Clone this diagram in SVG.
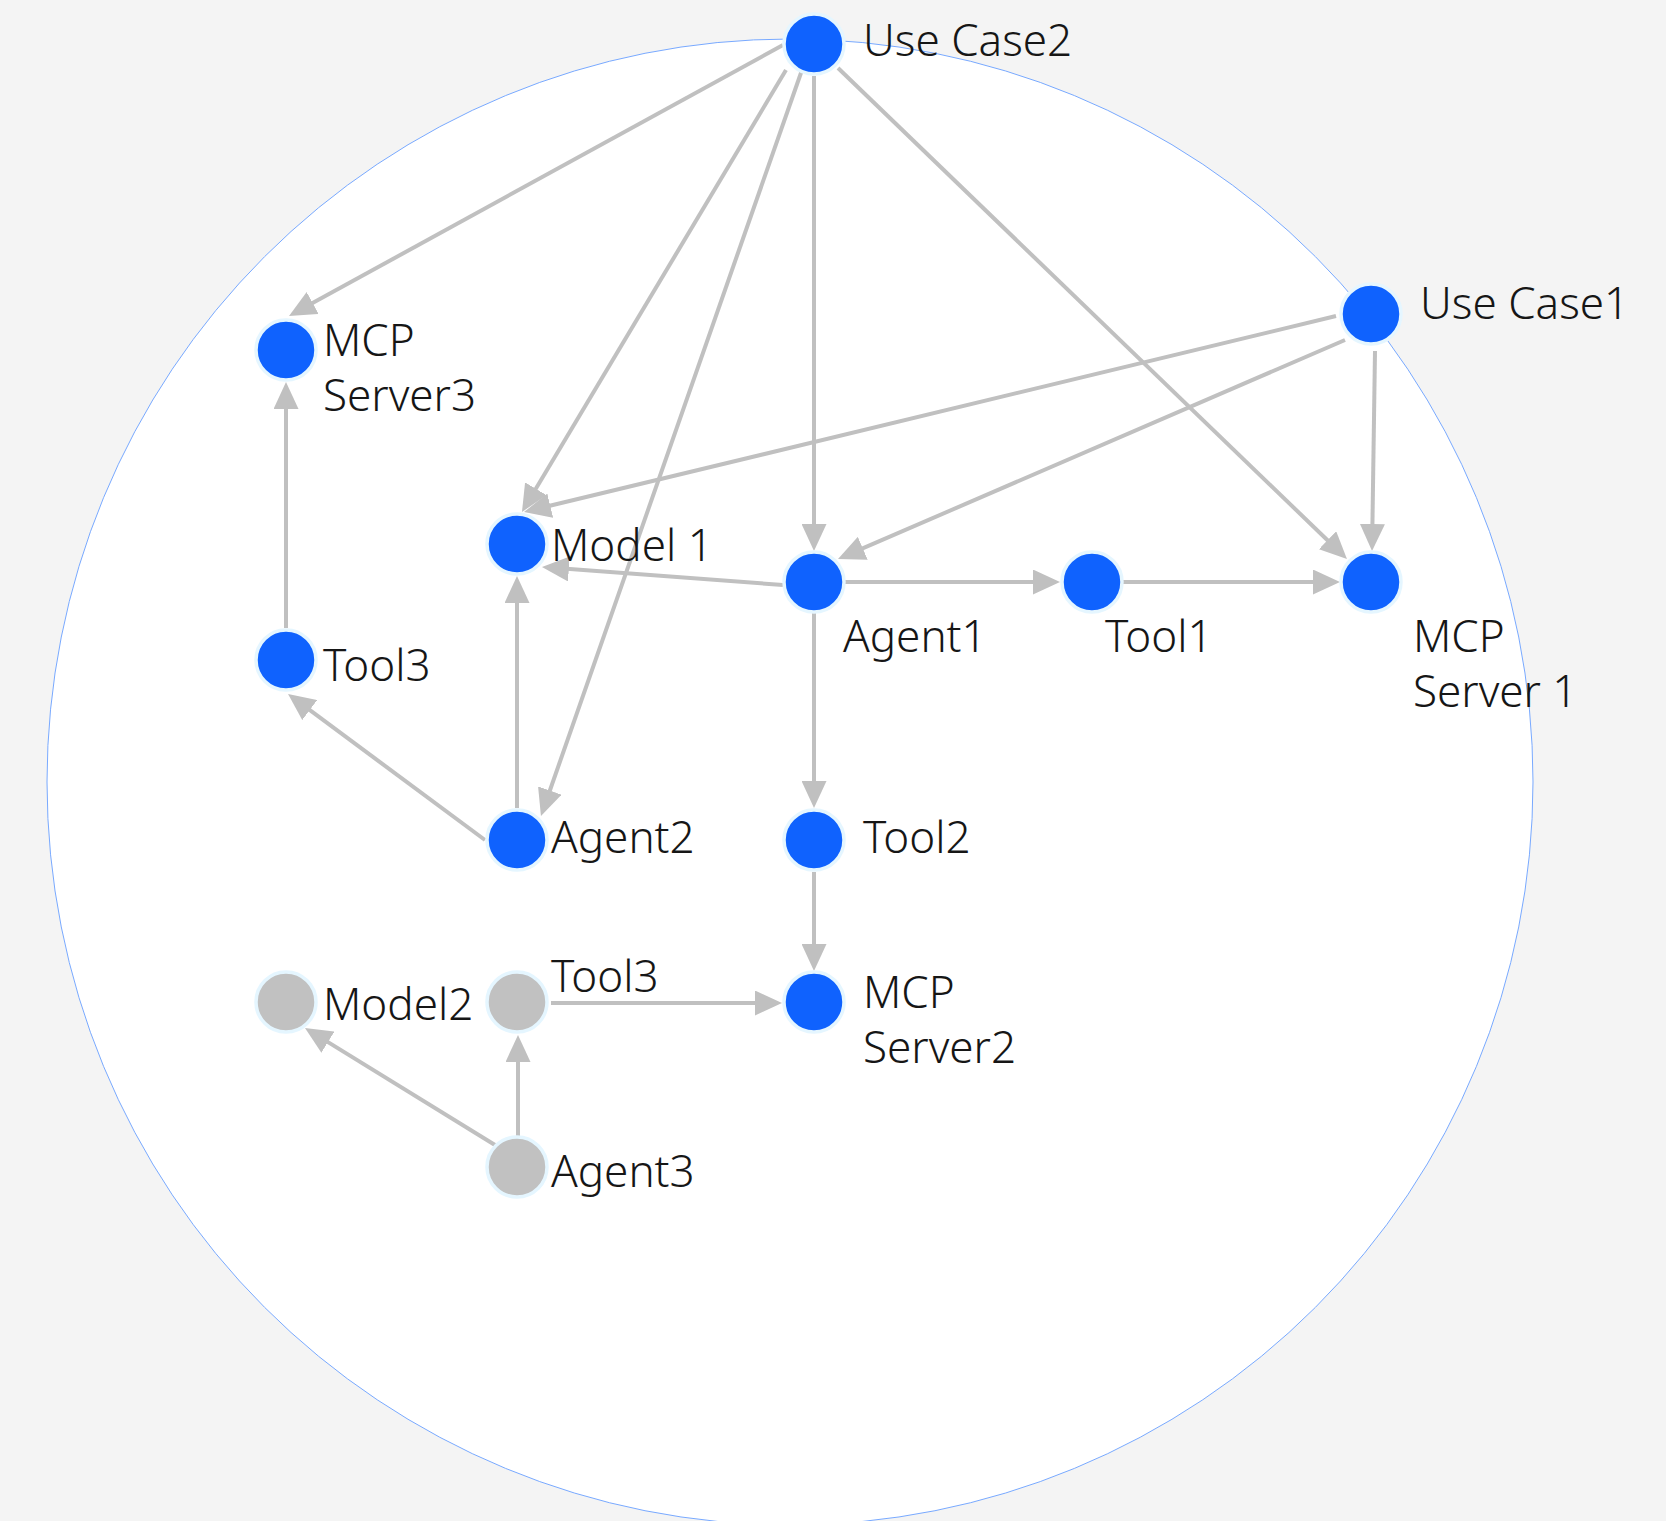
<svg xmlns="http://www.w3.org/2000/svg" width="1666" height="1521" viewBox="0 0 1666 1521">
<style>
.bg{fill:#f4f4f4}
.ring{fill:#ffffff;stroke:#78a9ff;stroke-width:1}
.n{fill:#0f62fe;stroke:#e5f6ff;stroke-width:3.5}
.g{fill:#c1c1c1;stroke:#e5f6ff;stroke-width:3.5}
.e{stroke:#c0c0c0;stroke-width:4;fill:none;marker-end:url(#arr)}
text{font-family:"Noto Sans","Open Sans","Liberation Sans",sans-serif;font-size:44px;font-weight:300;fill:#161616}
</style>
<defs>
<marker id="arr" markerUnits="userSpaceOnUse" markerWidth="27" markerHeight="25" refX="9" refY="12.5" orient="auto" viewBox="0 0 27 25">
<path d="M0,0 L27,12.5 L0,25 z" fill="#c0c0c0"/>
</marker>
</defs>
<rect class="bg" x="0" y="0" width="1666" height="1521"/>
<circle class="ring" cx="790" cy="782" r="743"/>
<g id="connectors">
<line class="e" x1="783" y1="45" x2="304.8" y2="307.3"/>
<line class="e" x1="786" y1="70" x2="531.2" y2="496.5"/>
<line class="e" x1="802" y1="70" x2="546.9" y2="799"/>
<line class="e" x1="814" y1="76" x2="814" y2="533"/>
<line class="e" x1="838" y1="68" x2="1334" y2="546.5"/>
<line class="e" x1="1336" y1="316" x2="541.5" y2="507.8"/>
<line class="e" x1="1345" y1="340" x2="854.5" y2="551.9"/>
<line class="e" x1="1375" y1="351" x2="1372.3" y2="533"/>
<line class="e" x1="783" y1="585" x2="559.9" y2="568.3"/>
<line class="e" x1="845" y1="582" x2="1042" y2="582"/>
<line class="e" x1="1123" y1="582" x2="1322" y2="582"/>
<line class="e" x1="814" y1="613" x2="814" y2="790"/>
<line class="e" x1="814" y1="872" x2="814" y2="953"/>
<line class="e" x1="286" y1="628" x2="286" y2="400"/>
<line class="e" x1="517" y1="808" x2="517" y2="594"/>
<line class="e" x1="485" y1="840" x2="302.5" y2="704.7"/>
<line class="e" x1="551" y1="1003" x2="764" y2="1003"/>
<line class="e" x1="518" y1="1136" x2="518" y2="1053"/>
<line class="e" x1="495" y1="1145" x2="320.3" y2="1037.4"/>
</g>
<g id="use-case2"><circle class="n" cx="814" cy="44" r="30"/><text x="863" y="56">Use Case2</text></g>
<g id="use-case1"><circle class="n" cx="1371" cy="314" r="30"/><text x="1420" y="319">Use Case1</text></g>
<g id="mcp-server3"><circle class="n" cx="286" cy="350" r="30"/><text x="323" y="356">MCP</text><text x="323" y="411">Server3</text></g>
<g id="model1"><circle class="n" cx="517" cy="544" r="30"/><text x="551" y="561">Model 1</text></g>
<g id="agent1"><circle class="n" cx="814" cy="582" r="30"/><text x="843" y="652">Agent1</text></g>
<g id="tool1"><circle class="n" cx="1092" cy="582" r="30"/><text x="1105" y="652">Tool1</text></g>
<g id="mcp-server1"><circle class="n" cx="1371" cy="582" r="30"/><text x="1413" y="652">MCP</text><text x="1413" y="707">Server 1</text></g>
<g id="tool3"><circle class="n" cx="286" cy="660" r="30"/><text x="323" y="681">Tool3</text></g>
<g id="agent2"><circle class="n" cx="517" cy="840" r="30"/><text x="551" y="853">Agent2</text></g>
<g id="tool2"><circle class="n" cx="814" cy="840" r="30"/><text x="863" y="853">Tool2</text></g>
<g id="model2"><circle class="g" cx="286" cy="1002" r="30"/><text x="323" y="1020">Model2</text></g>
<g id="tool3-gray"><circle class="g" cx="517" cy="1002" r="30"/><text x="551" y="992">Tool3</text></g>
<g id="mcp-server2"><circle class="n" cx="814" cy="1002" r="30"/><text x="863" y="1008">MCP</text><text x="863" y="1063">Server2</text></g>
<g id="agent3"><circle class="g" cx="517" cy="1167" r="30"/><text x="551" y="1187">Agent3</text></g>
</svg>
